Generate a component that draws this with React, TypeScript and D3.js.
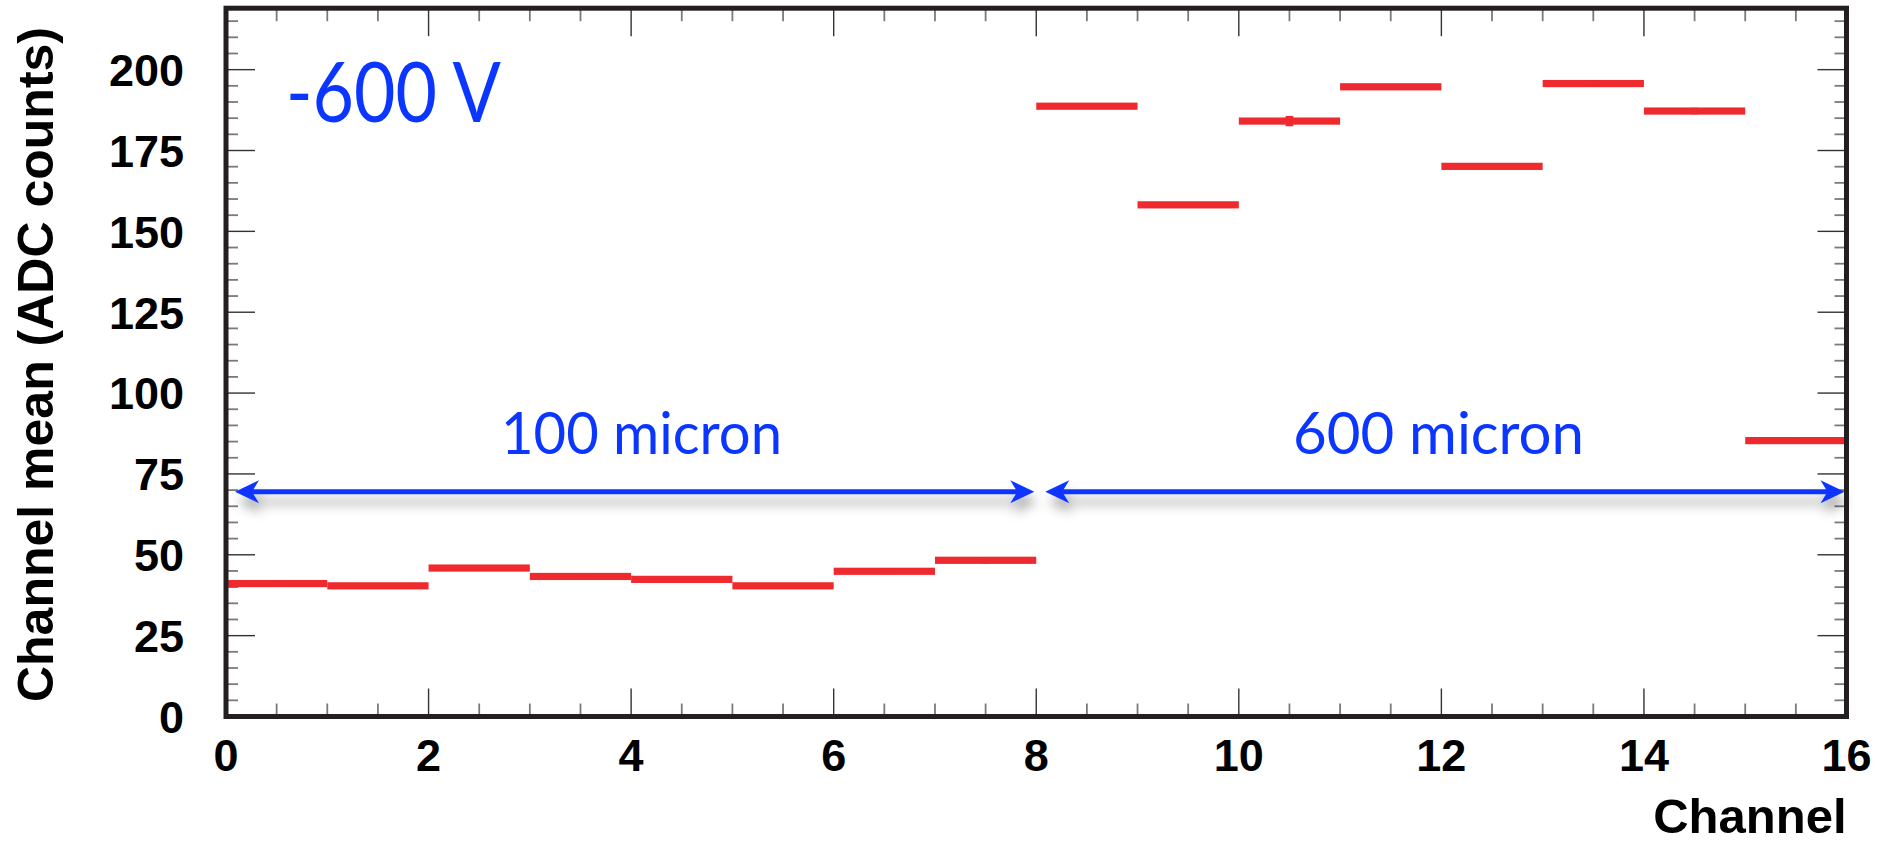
import React from "react";
import * as d3 from "d3";

const channels = [0, 1, 2, 3, 4, 5, 6, 7, 8, 9, 10, 11, 12, 13, 14, 15];
const means = [41.1, 40.4, 45.9, 43.3, 42.4, 40.4, 44.9, 48.3, 188.7, 158.2, 184.1, 194.7, 170.1, 195.7, 187.2, 85.3];
const errors = [0.3, 0.3, 0.3, 0.3, 0.3, 0.3, 0.5, 1.0, 0.8, 0.6, 1.6, 0.8, 0.5, 1.0, 1.0, 0.6];
const xTicks = [0, 2, 4, 6, 8, 10, 12, 14, 16];
const yTicks = [0, 25, 50, 75, 100, 125, 150, 175, 200];
const regions = [
  { label: "100 micron", from: 0, to: 8 },
  { label: "600 micron", from: 8, to: 16 },
];
const arrowLevel = 69.5;
const voltageLabel = "-600 V";
const xTitle = "Channel";
const yTitle = "Channel mean (ADC counts)";

const W = 1885;
const H = 841;
const L = 226, R = 1846.5, T = 8.2, B = 716.5;
const RED = "#ee2a2f";
const BLUE = "#0b36ff";

export default function App() {
  const x = d3.scaleLinear().domain([0, 16]).range([L, R]);
  const y = d3.scaleLinear().domain([0, 219]).range([B, T]);
  const xMinor = d3.range(0, 16.01, 0.5).filter((v) => Math.abs(v % 2) > 1e-6);
  const yMinor = d3.range(0, 219, 5).filter((v) => v % 25 !== 0);
  const axisFont = "'Liberation Sans', Arial, Helvetica, sans-serif";
  const labelFont = "Lato, 'Open Sans', sans-serif";

  const arrowHead = (tx: number, ty: number, dir: number) => {
    // dir = -1 points left, +1 points right
    const len = 24, hw = 11.5, notch = 17;
    const p = [
      [tx, ty],
      [tx - dir * len, ty - hw],
      [tx - dir * notch, ty],
      [tx - dir * len, ty + hw],
    ];
    return "M" + p.map((q) => q.join(",")).join("L") + "Z";
  };

  const ay = y(arrowLevel);

  return (
    <svg width={W} height={H} style={{ position: "absolute", left: 0, top: 0, display: "block", background: "#fff" }}>
      <defs>
        <filter id="shadow" x="-10%" y="-200%" width="120%" height="500%">
          <feDropShadow dx="3" dy="10" stdDeviation="6" floodColor="#000" floodOpacity="0.35" />
        </filter>
      </defs>

      {/* minor ticks */}
      {xMinor.map((v) => (
        <g key={"xm" + v} stroke="#7a7a7a" strokeWidth={1.8}>
          <line x1={x(v)} x2={x(v)} y1={B} y2={B - 13} />
          <line x1={x(v)} x2={x(v)} y1={T} y2={T + 13} />
        </g>
      ))}
      {yMinor.map((v) => (
        <g key={"ym" + v} stroke="#7a7a7a" strokeWidth={1.8}>
          <line x1={L} x2={L + 12} y1={y(v)} y2={y(v)} />
          <line x1={R} x2={R - 12} y1={y(v)} y2={y(v)} />
        </g>
      ))}
      {/* major ticks */}
      {xTicks.map((v) => (
        <g key={"xM" + v} stroke="#333" strokeWidth={1.4}>
          <line x1={x(v)} x2={x(v)} y1={B} y2={B - 28} />
          <line x1={x(v)} x2={x(v)} y1={T} y2={T + 28} />
        </g>
      ))}
      {yTicks.map((v) => (
        <g key={"yM" + v} stroke="#333" strokeWidth={1.4}>
          <line x1={L} x2={L + 29} y1={y(v)} y2={y(v)} />
          <line x1={R} x2={R - 29} y1={y(v)} y2={y(v)} />
        </g>
      ))}

      {/* data */}
      {channels.map((c, i) => (
        <g key={"d" + c} fill={RED}>
          <rect x={x(c)} y={y(means[i]) - 3.6} width={x(c + 1) - x(c)} height={7.2} />
          <rect
            x={x(c + 0.5) - 3.8}
            y={y(means[i] + errors[i])}
            width={7.6}
            height={Math.max(0, y(means[i] - errors[i]) - y(means[i] + errors[i]))}
          />
        </g>
      ))}

      {/* arrows */}
      <g filter="url(#shadow)">
        {regions.map((r) => {
          const x1 = x(r.from) + 9;
          const x2 = x(r.to) - 2;
          return (
            <g key={"a" + r.label}>
              <line x1={x1 + 15} x2={x2 - 15} y1={ay} y2={ay} stroke={BLUE} strokeWidth={5} />
              <path d={arrowHead(x1, ay, -1)} fill={BLUE} />
              <path d={arrowHead(x2, ay, 1)} fill={BLUE} />
            </g>
          );
        })}
      </g>
      <text x={501} y={454.3} fill={BLUE} fontFamily={labelFont} fontSize={58} textLength={281} lengthAdjust="spacingAndGlyphs">
        {regions[0].label}
      </text>
      <text x={1293} y={454.3} fill={BLUE} fontFamily={labelFont} fontSize={58} textLength={291} lengthAdjust="spacingAndGlyphs">
        {regions[1].label}
      </text>
      <text x={286} y={121.7} fill={BLUE} fontFamily={labelFont} fontSize={83} textLength={215} lengthAdjust="spacingAndGlyphs">
        {voltageLabel}
      </text>

      {/* frame */}
      <rect x={L} y={T} width={R - L} height={B - T} fill="none" stroke="#231f20" strokeWidth={5} />

      {/* tick labels */}
      {xTicks.map((v) => (
        <text key={"xl" + v} x={x(v)} y={770.7} textAnchor="middle" fontFamily={axisFont} fontWeight="bold" fontSize={45} fill="#000">
          {v}
        </text>
      ))}
      {yTicks.map((v) => (
        <text key={"yl" + v} x={184} y={y(v) + 16.3} textAnchor="end" fontFamily={axisFont} fontWeight="bold" fontSize={45} fill="#000">
          {v}
        </text>
      ))}

      {/* titles */}
      <text x={R} y={833} textAnchor="end" fontFamily={axisFont} fontWeight="bold" fontSize={49} fill="#000">
        {xTitle}
      </text>
      <text
        transform={`translate(53,27) rotate(-90)`}
        textAnchor="end"
        fontFamily={axisFont}
        fontWeight="bold"
        fontSize={50}
        fill="#000"
      >
        {yTitle}
      </text>
    </svg>
  );
}
